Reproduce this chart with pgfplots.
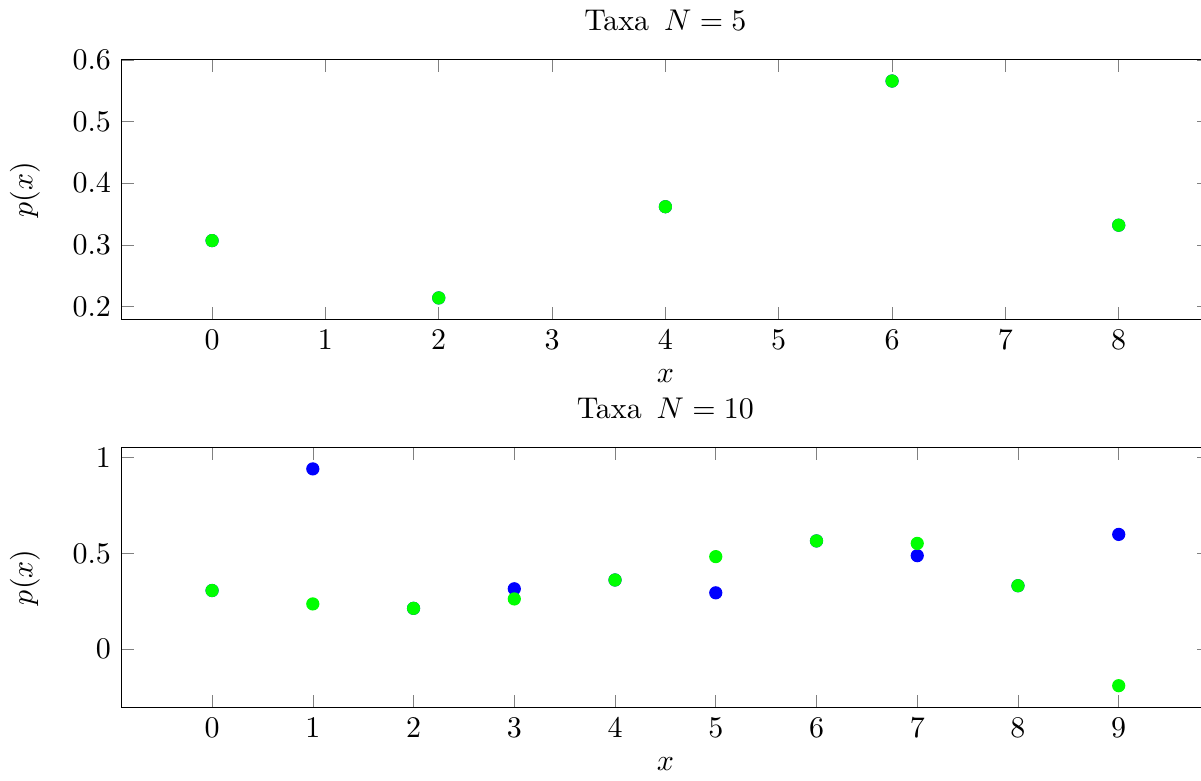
\documentclass[border=0pt]{standalone}
\usepackage{pgfplots}
\pgfplotsset{compat=1.18}

% p(x) samples for the two taxa sizes
\pgfplotstableread{
x   p
0   0.307
2   0.214
4   0.362
6   0.566
8   0.332
}\taxafive

\pgfplotstableread{
x   p
0   0.307
1   0.942
2   0.214
3   0.316
4   0.362
5   0.295
6   0.566
7   0.489
8   0.332
9   0.600
}\taxatenblue

\pgfplotstableread{
x   p
0   0.307
1   0.237
2   0.214
3   0.263
4   0.362
5   0.484
6   0.566
7   0.553
8   0.332
9   -0.190
}\taxatengreen

\begin{document}
\begin{tikzpicture}
\pgfplotsset{
  every axis/.append style={
    scale only axis,
    width=363pt,
    height=86.8pt,
    anchor=north west,
    xlabel={$x$},
    ylabel={$p(x)$},
    ylabel shift=4pt,
  },
}
\begin{axis}[
  name=top,
  at={(0,0)},
  title={Taxa\ $\,N=5$},
  xmin=-0.8, xmax=8.8,
  ymin=0.1789, ymax=0.6011,
  xtick={0,...,8},
  ytick={0.2,0.3,0.4,0.5,0.6},
]
\addplot[only marks, mark=*, color=blue] table[x=x, y=p] {\taxafive};
\addplot[only marks, mark=*, color=green] table[x=x, y=p] {\taxafive};
\end{axis}

\begin{axis}[
  name=bottom,
  at={(0,-129.4pt)},
  title={Taxa\ $\,N=10$},
  xmin=-0.9, xmax=9.9,
  ymin=-0.3032, ymax=1.0552,
  xtick={0,...,9},
  ytick={0,0.5,1},
]
\addplot[only marks, mark=*, color=blue] table[x=x, y=p] {\taxatenblue};
\addplot[only marks, mark=*, color=green] table[x=x, y=p] {\taxatengreen};
\end{axis}

% trim the right margin of the picture
\coordinate (bbsw) at (current bounding box.south west);
\coordinate (bbne) at (current bounding box.north east);
\pgfresetboundingbox
\path (bbsw) rectangle ([xshift=-3pt]bbne);
\end{tikzpicture}
\end{document}
